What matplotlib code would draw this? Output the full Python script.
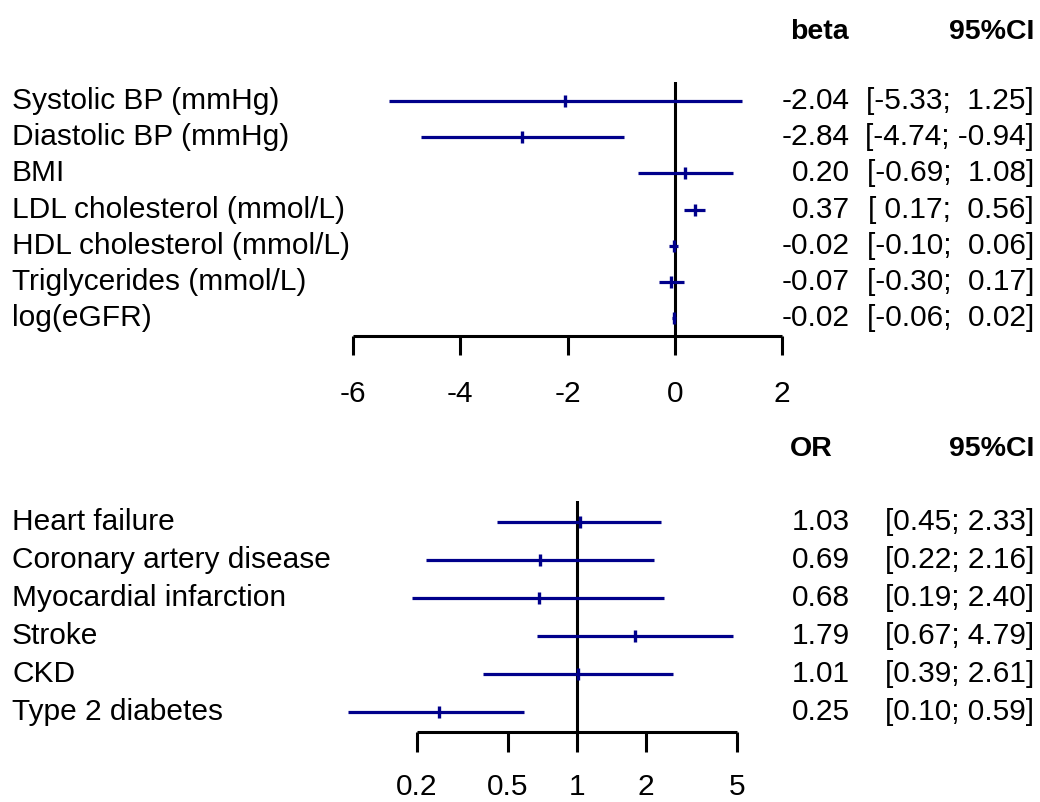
import numpy as np
import matplotlib
matplotlib.use("Agg")
import matplotlib.pyplot as plt
from matplotlib import transforms

plt.rcParams['font.family'] = ['Liberation Sans', 'DejaVu Sans']

# continuous traits (beta, 95% CI)
cont_labels = ["Systolic BP (mmHg)", "Diastolic BP (mmHg)", "BMI",
               "LDL cholesterol (mmol/L)", "HDL cholesterol (mmol/L)",
               "Triglycerides (mmol/L)", "log(eGFR)"]
beta = [-2.04, -2.84, 0.20, 0.37, -0.02, -0.07, -0.02]
beta_lo = [-5.33, -4.74, -0.69, 0.17, -0.10, -0.30, -0.06]
beta_hi = [1.25, -0.94, 1.08, 0.56, 0.06, 0.17, 0.02]
beta_ticks = [-6, -4, -2, 0, 2]

# binary outcomes (OR, 95% CI)
bin_labels = ["Heart failure", "Coronary artery disease", "Myocardial infarction",
              "Stroke", "CKD", "Type 2 diabetes"]
odds = [1.03, 0.69, 0.68, 1.79, 1.01, 0.25]
odds_lo = [0.45, 0.22, 0.19, 0.67, 0.39, 0.10]
odds_hi = [2.33, 2.16, 2.40, 4.79, 2.61, 0.59]
or_ticks = [0.2, 0.5, 1, 2, 5]

W, H = 1040, 802
fig = plt.figure(figsize=(W / 100, H / 100), dpi=100)

BLUE = "#00008B"
FS = 21.5
FS_HEAD = 20.5


def px_axes(x0, y0, x1, y1):
    # pixel box (top-left origin) -> axes
    return fig.add_axes([x0 / W, 1 - y1 / H, (x1 - x0) / W, (y1 - y0) / H])


def forest(ax, labels, est, lo, hi, ticks, ticklabels, ref, head, ci_txt,
           row0_px, row_step, top_px, axis_px, ticklen, pad):
    n = len(labels)
    y = np.arange(n)
    ax.set_ylim((axis_px - row0_px) / row_step, (top_px - row0_px) / row_step)
    for sp in ["top", "right", "left"]:
        ax.spines[sp].set_visible(False)
    ax.spines["bottom"].set_linewidth(2.2)
    ax.spines["bottom"].set_capstyle("butt")
    ax.set_yticks([])
    ax.set_xticks(ticks)
    ax.set_xticklabels(ticklabels)
    ax.xaxis.set_minor_locator(matplotlib.ticker.NullLocator())
    ax.tick_params(axis="x", direction="out", length=ticklen, width=2.2,
                   labelsize=FS, pad=pad)
    ax.axvline(ref, color="black", lw=2.2, zorder=1)
    ax.hlines(y, lo, hi, color=BLUE, lw=2.3, clip_on=False, zorder=2)
    ax.plot(est, y, ls="none", marker="|", ms=8.5, mew=2.4, color=BLUE,
            clip_on=False, zorder=3)
    tr = transforms.blended_transform_factory(fig.transFigure, ax.transData)
    for i in range(n):
        ax.text(12 / W, i, labels[i], transform=tr, ha="left", va="center",
                fontsize=FS)
        ax.text(850 / W, i, f"{est[i]:.2f}", transform=tr, ha="right",
                va="center", fontsize=FS)
        ax.text(1034 / W, i, ci_txt[i], transform=tr, ha="right",
                va="center", fontsize=FS)
    hy = -1.9
    ax.text(790 / W, hy, head, transform=tr, ha="left", va="center",
            fontsize=FS_HEAD, fontweight="bold")
    ax.text(1034 / W, hy, "95%CI", transform=tr, ha="right", va="center",
            fontsize=FS_HEAD, fontweight="bold")


# top panel
ax1 = px_axes(353, 81.7, 782, 336)
ax1.set_xlim(-6, 2)
ci1 = [f"[{a:5.2f}; {b:5.2f}]" for a, b in zip(beta_lo, beta_hi)]
forest(ax1, cont_labels, beta, beta_lo, beta_hi, beta_ticks,
       [str(t) for t in beta_ticks], 0, "beta", ci1,
       row0_px=101, row_step=36.2, top_px=81.7, axis_px=336,
       ticklen=13.5, pad=18)

# bottom panel
ax2 = px_axes(416.7, 500.7, 737.3, 731.7)
ax2.set_xscale("log")
ax2.set_xlim(0.2, 5)
ci2 = [f"[{a:.2f}; {b:.2f}]" for a, b in zip(odds_lo, odds_hi)]
forest(ax2, bin_labels, odds, odds_lo, odds_hi, or_ticks,
       ["0.2", "0.5", "1", "2", "5"], 1, "OR", ci2,
       row0_px=521.7, row_step=38.1, top_px=500.7, axis_px=731.7,
       ticklen=14.5, pad=15)

fig.savefig("out.png", dpi=100)
